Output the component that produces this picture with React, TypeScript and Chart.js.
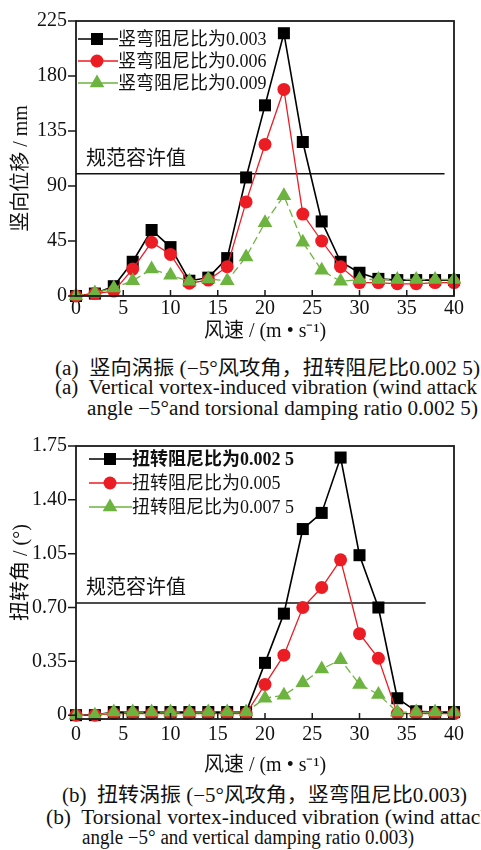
import React, { useEffect, useLayoutEffect, useRef } from "react";
import { Chart, registerables } from "chart.js";
Chart.register(...registerables);

const FONT = "'Liberation Serif', 'Noto Sans CJK SC', serif";

// shared x values (wind speed, m/s)
const windSpeeds = [0, 2, 4, 6, 8, 10, 12, 14, 16, 18, 20, 22, 24, 26, 28, 30, 32, 34, 36, 38, 40];
const xTicks = [0, 5, 10, 15, 20, 25, 30, 35, 40];

// (a) vertical displacement, mm
const vertLabels = ["竖弯阻尼比为0.003", "竖弯阻尼比为0.006", "竖弯阻尼比为0.009"];
const vert003 = [0, 2, 8, 28, 54, 40, 12.5, 15, 31, 97, 156, 215, 126, 61, 28, 19, 14, 13, 13, 13, 13];
const vert006 = [0, 2, 4, 22, 44, 34, 10.5, 13, 24, 77, 124, 169, 67, 45, 24, 11, 11, 10, 10, 11, 11];
const vert009 = [0, 2.5, 6.5, 12.5, 22, 17, 12, 14, 12.5, 32, 60, 82, 44, 21, 12, 13.5, 13.5, 13.5, 13.5, 13.5, 13.5];
const vertTicks = [0, 45, 90, 135, 180, 225];
const vertLimit = 100;
const vertLimitEnd = 39;

// (b) torsional angle, degrees
const torsLabels = ["扭转阻尼比为0.002 5", "扭转阻尼比为0.005", "扭转阻尼比为0.007 5"];
const tors0025 = [0, 0, 0.02, 0.02, 0.02, 0.02, 0.02, 0.02, 0.02, 0.02, 0.34, 0.66, 1.21, 1.315, 1.675, 1.04, 0.70, 0.11, 0.025, 0.02, 0.02];
const tors005 = [0, 0, 0.01, 0.01, 0.01, 0.01, 0.01, 0.01, 0.01, 0.01, 0.20, 0.39, 0.70, 0.83, 1.01, 0.53, 0.37, 0.01, 0.01, 0.01, 0.01];
const tors0075 = [0, 0, 0.02, 0.02, 0.02, 0.02, 0.02, 0.02, 0.02, 0.02, 0.11, 0.13, 0.21, 0.30, 0.36, 0.20, 0.135, 0.02, 0.02, 0.02, 0.02];
const torsTicks = [0, 0.35, 0.7, 1.05, 1.4, 1.75];
const torsLimit = 0.73;
const torsLimitEnd = 37;

const limitText = "规范容许值";

const BLACK = "#000000";
const RED = "#ec1c24";
const GREEN = "#6db33f";

type Cfg = {
  series: number[][];
  labels: string[];
  yTicks: number[];
  yMin: number;
  yMax: number;
  yTitle: string;
  yFmt: (v: number) => string;
  limit: number;
  limitEnd: number;
  height: number;
  padTop: number;
  xHeight: number;
  xTickPad: number;
  xTitlePadBottom: number;
  legend: { lineStart: number; marker: number; textStart: number; firstRow: number; rowGap: number; boldFirst: boolean };
};

const styles = [
  { color: BLACK, style: "rect", radius: 8.5, width: 1.6, dash: [] as number[], order: 2 },
  { color: RED, style: "circle", radius: 6.5, width: 1.3, dash: [] as number[], order: 1 },
  { color: GREEN, style: "triangle", radius: 8.5, width: 1.3, dash: [8, 4], order: 0 },
];

function drawMarker(ctx: CanvasRenderingContext2D, kind: string, x: number, y: number, r: number, color: string) {
  ctx.save();
  ctx.fillStyle = color;
  ctx.beginPath();
  if (kind === "rect") {
    const s = Math.SQRT1_2 * r;
    ctx.rect(x - s, y - s, 2 * s, 2 * s);
  } else if (kind === "circle") {
    ctx.arc(x, y, r, 0, Math.PI * 2);
  } else {
    for (let i = 0; i < 3; i++) {
      const a = (i * 2 * Math.PI) / 3;
      const px = x + Math.sin(a) * r;
      const py = y - Math.cos(a) * r;
      if (i === 0) ctx.moveTo(px, py);
      else ctx.lineTo(px, py);
    }
    ctx.closePath();
  }
  ctx.fill();
  ctx.restore();
}

function makeChart(canvas: HTMLCanvasElement, cfg: Cfg) {
  const datasets: any[] = cfg.series.map((s, i) => ({
    label: cfg.labels[i],
    data: windSpeeds.map((x, j) => ({ x, y: s[j] })),
    borderColor: styles[i].color,
    backgroundColor: styles[i].color,
    borderWidth: styles[i].width,
    borderDash: styles[i].dash,
    pointStyle: styles[i].style,
    pointRadius: styles[i].radius,
    pointBorderWidth: 0,
    pointBackgroundColor: styles[i].color,
    order: styles[i].order,
    clip: false,
    tension: 0,
  }));
  datasets.push({
    label: "limit",
    data: [
      { x: 0, y: cfg.limit },
      { x: cfg.limitEnd, y: cfg.limit },
    ],
    borderColor: "#111",
    borderWidth: 1.5,
    pointRadius: 0,
    order: 3,
  });

  const framePlugin = {
    id: "frame",
    afterDraw(chart: any) {
      const { ctx, chartArea: a, scales } = chart;
      const xs = scales.x;
      const ys = scales.y;
      ctx.save();
      ctx.strokeStyle = "#1a1a1a";
      ctx.lineWidth = 1.8;
      ctx.strokeRect(a.left, a.top, a.right - a.left, a.bottom - a.top);
      ctx.lineWidth = 1.5;
      ctx.beginPath();
      for (const t of xTicks) {
        const px = xs.getPixelForValue(t);
        ctx.moveTo(px, a.bottom);
        ctx.lineTo(px, a.bottom - 6);
      }
      for (const t of cfg.yTicks) {
        const py = ys.getPixelForValue(t);
        ctx.moveTo(a.left, py);
        ctx.lineTo(a.left - 8, py);
      }
      ctx.stroke();

      // limit label
      const ly = ys.getPixelForValue(cfg.limit);
      ctx.fillStyle = "#111";
      ctx.font = `20px ${FONT}`;
      ctx.textAlign = "left";
      ctx.textBaseline = "middle";
      ctx.fillText(limitText, a.left + 10, ly - 14);

      // legend
      const L = cfg.legend;
      for (let i = 0; i < 3; i++) {
        const y = a.top + L.firstRow + i * L.rowGap;
        ctx.save();
        ctx.strokeStyle = styles[i].color;
        ctx.lineWidth = 1.6;
        ctx.beginPath();
        ctx.moveTo(a.left + L.lineStart, y);
        ctx.lineTo(a.left + L.textStart, y);
        ctx.stroke();
        ctx.restore();
        drawMarker(ctx, styles[i].style, a.left + L.marker, y, styles[i].radius, styles[i].color);
        ctx.fillStyle = "#111";
        ctx.font = `${L.boldFirst && i === 0 ? "bold " : ""}18px ${FONT}`;
        ctx.textAlign = "left";
        ctx.textBaseline = "middle";
        ctx.fillText(cfg.labels[i], a.left + L.textStart, y + 1);
      }
      ctx.restore();
    },
  };

  return new Chart(canvas, {
    type: "line",
    data: { datasets },
    options: {
      animation: false,
      responsive: false,
      devicePixelRatio: 1,
      layout: { padding: { top: cfg.padTop, right: 27, left: 0, bottom: 0 } },
      plugins: { legend: { display: false }, tooltip: { enabled: false } },
      scales: {
        x: {
          type: "linear",
          min: 0,
          max: 40,
          grid: { display: false, drawTicks: false },
          border: { display: false },
          afterBuildTicks: (s: any) => {
            s.ticks = xTicks.map((v) => ({ value: v }));
          },
          afterFit: (s: any) => {
            s.height = cfg.xHeight;
          },
          ticks: {
            color: "#111",
            font: { family: FONT, size: 20 },
            padding: cfg.xTickPad,
            maxRotation: 0,
            autoSkip: false,
            callback: (v: any) => String(v),
          },
          title: {
            display: true,
            text: "风速 / (m • s⁻¹)",
            color: "#111",
            font: { family: FONT, size: 20 },
            padding: { top: 0, bottom: cfg.xTitlePadBottom },
          },
        },
        y: {
          type: "linear",
          min: cfg.yMin,
          max: cfg.yMax,
          grid: { display: false, drawTicks: false },
          border: { display: false },
          afterBuildTicks: (s: any) => {
            s.ticks = cfg.yTicks.map((v) => ({ value: v }));
          },
          afterFit: (s: any) => {
            s.width = 76;
          },
          ticks: {
            color: "#111",
            font: { family: FONT, size: 20 },
            padding: 9,
            autoSkip: false,
            callback: (v: any) => cfg.yFmt(Number(v)),
          },
          title: {
            display: true,
            text: cfg.yTitle,
            color: "#111",
            font: { family: FONT, size: 20 },
            padding: { top: 10, bottom: 0 },
          },
        },
      },
    },
    plugins: [framePlugin],
  } as any);
}

const cfgA: Cfg = {
  series: [vert003, vert006, vert009],
  labels: vertLabels,
  yTicks: vertTicks,
  yMin: 0,
  yMax: 225,
  yTitle: "竖向位移 / mm\u2003",
  yFmt: (v) => String(v),
  limit: vertLimit,
  limitEnd: vertLimitEnd,
  height: 348,
  padTop: 14,
  xHeight: 52,
  xTickPad: 1,
  xTitlePadBottom: 4,
  legend: { lineStart: 2, marker: 21, textStart: 42, firstRow: 18, rowGap: 22, boldFirst: false },
};

const cfgB: Cfg = {
  series: [tors0025, tors005, tors0075],
  labels: torsLabels,
  yTicks: torsTicks,
  yMin: -0.025,
  yMax: 1.75,
  yTitle: "\u2003扭转角 / (°)",
  yFmt: (v) => (v === 0 ? "0" : v.toFixed(2)),
  limit: torsLimit,
  limitEnd: torsLimitEnd,
  height: 355,
  padTop: 18,
  xHeight: 61,
  xTickPad: 4,
  xTitlePadBottom: 2,
  legend: { lineStart: 13, marker: 34, textStart: 56, firstRow: 13, rowGap: 24, boldFirst: true },
};

const capStyle: React.CSSProperties = {
  position: "absolute",
  whiteSpace: "nowrap",
  fontFamily: FONT,
  fontSize: 20,
  lineHeight: "20px",
  color: "#111",
  transformOrigin: "left center",
};

function Caption({ text, left, right, top }: { text: string; left: number; right: number; top: number }) {
  const ref = useRef<HTMLDivElement | null>(null);
  useLayoutEffect(() => {
    const el = ref.current;
    if (!el) return;
    const fit = () => {
      el.style.transform = "none";
      const w = el.getBoundingClientRect().width;
      if (w > 0) el.style.transform = `scaleX(${(right - left) / w})`;
    };
    fit();
    if ((document as any).fonts && (document as any).fonts.ready) {
      (document as any).fonts.ready.then(fit);
    }
  }, [text, left, right]);
  return (
    <div ref={ref} style={{ ...capStyle, left, top }}>
      {text}
    </div>
  );
}

function ChartCanvas({ cfg, top }: { cfg: Cfg; top: number }) {
  const ref = useRef<HTMLCanvasElement | null>(null);
  useEffect(() => {
    if (!ref.current) return;
    const c = makeChart(ref.current, cfg);
    return () => c.destroy();
  }, [cfg]);
  return (
    <canvas
      ref={ref}
      width={481}
      height={cfg.height}
      style={{ position: "absolute", left: 0, top, width: 481, height: cfg.height, display: "block" }}
    />
  );
}

export default function App() {
  return (
    <div style={{ position: "absolute", left: 0, top: 0, width: 481, height: 850, overflow: "hidden", background: "#fff" }}>
      <ChartCanvas cfg={cfgA} top={0} />
      <Caption text={"(a)\u00a0 竖向涡振 (−5°风攻角，扭转阻尼比0.002 5)"} left={55} right={480} top={358} />
      <Caption text={"(a)\u00a0 Vertical vortex-induced vibration (wind attack"} left={55} right={477} top={377} />
      <Caption text={"angle −5°and torsional damping ratio 0.002 5)"} left={87} right={478} top={398} />
      <ChartCanvas cfg={cfgB} top={425} />
      <Caption text={"(b)\u00a0 扭转涡振 (−5°风攻角，竖弯阻尼比0.003)"} left={62} right={467} top={785} />
      <Caption text={"(b)\u00a0 Torsional vortex-induced vibration (wind attack"} left={46} right={491} top={807} />
      <Caption text={"angle −5° and vertical damping ratio 0.003)"} left={82} right={414} top={827} />
    </div>
  );
}
